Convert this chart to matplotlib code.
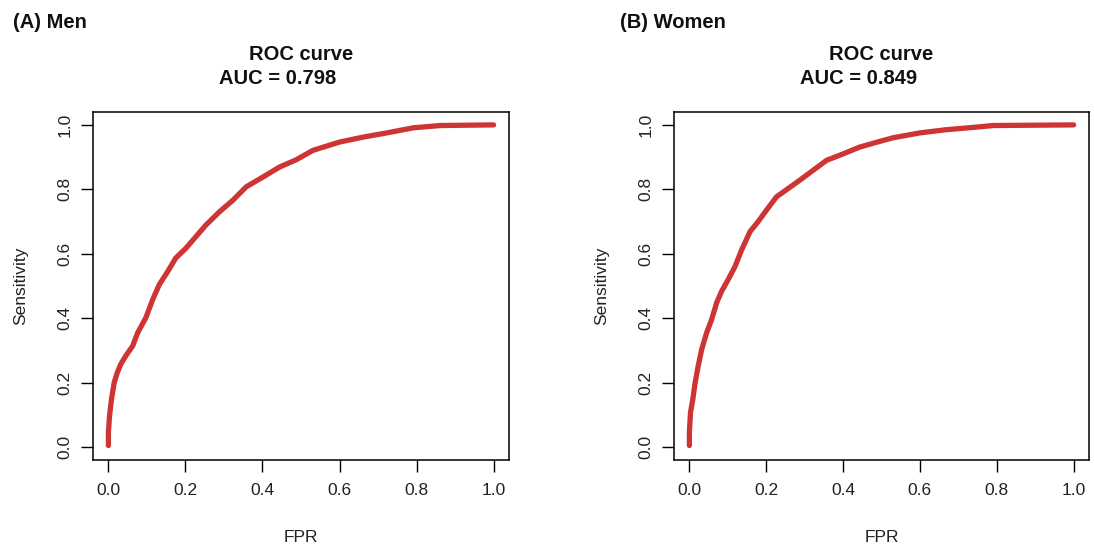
import matplotlib
matplotlib.use("Agg")
import matplotlib.pyplot as plt

plt.rcParams["font.family"] = ["Liberation Sans", "DejaVu Sans"]

# ROC points: (FPR, sensitivity)
men_fpr = [0.0, 0.0, 0.003, 0.008, 0.015, 0.023, 0.032, 0.045, 0.063, 0.076,
           0.097, 0.115, 0.132, 0.154, 0.175, 0.201, 0.227, 0.253, 0.288,
           0.323, 0.358, 0.401, 0.444, 0.488, 0.531, 0.601, 0.661, 0.722,
           0.792, 0.861, 1.0]
men_tpr = [0.005, 0.046, 0.098, 0.149, 0.200, 0.231, 0.257, 0.283, 0.314, 0.355,
           0.401, 0.458, 0.504, 0.545, 0.587, 0.617, 0.653, 0.689, 0.730,
           0.766, 0.808, 0.838, 0.869, 0.892, 0.921, 0.947, 0.962, 0.975,
           0.991, 0.998, 1.0]

women_fpr = [0.0, 0.0, 0.003, 0.009, 0.015, 0.023, 0.032, 0.045, 0.058, 0.071,
             0.084, 0.101, 0.119, 0.136, 0.158, 0.179, 0.201, 0.227, 0.253,
             0.287, 0.322, 0.357, 0.400, 0.443, 0.487, 0.530, 0.599, 0.668,
             0.746, 0.790, 1.0]
women_tpr = [0.005, 0.046, 0.108, 0.149, 0.200, 0.252, 0.303, 0.355, 0.396, 0.448,
             0.484, 0.520, 0.561, 0.612, 0.669, 0.700, 0.736, 0.777, 0.799,
             0.828, 0.859, 0.890, 0.910, 0.931, 0.946, 0.960, 0.975, 0.985,
             0.993, 0.998, 1.0]

panels = ["(A) Men", "(B) Women"]
aucs = [0.798, 0.849]
ticks = [0.0, 0.2, 0.4, 0.6, 0.8, 1.0]

W, H = 1094, 550
fig = plt.figure(figsize=(W / 100, H / 100), dpi=100)

# axes boxes in pixels: left, right
boxes = [(93, 509), (674, 1089)]
top, bottom = 112, 460
curves = [(men_fpr, men_tpr), (women_fpr, women_tpr)]

for i, ((l, r), (fx, ty)) in enumerate(zip(boxes, curves)):
    ax = fig.add_axes([l / W, (H - bottom) / H, (r - l) / W, (bottom - top) / H])
    ax.plot(fx, ty, color="#cf3434", lw=3.8, solid_capstyle="round")
    ax.set_xlim(-0.04, 1.04)
    ax.set_ylim(-0.04, 1.04)
    ax.set_xticks(ticks)
    ax.set_yticks(ticks)
    ax.set_xticklabels([f"{t:.1f}" for t in ticks])
    ax.set_yticklabels([f"{t:.1f}" for t in ticks], rotation=90, va="center")
    ax.tick_params(direction="out", length=8.5, width=1.0, labelsize=12.5,
                   labelcolor="#222222", pad=8)
    ax.tick_params(axis="y", pad=6)
    for s in ax.spines.values():
        s.set_linewidth(1.1)
    ax.set_xlabel("FPR", fontsize=12.5, color="#222222")
    ax.xaxis.set_label_coords(0.5, -0.20)
    ax.set_ylabel("Sensitivity", fontsize=12.5, color="#222222")
    ax.yaxis.set_label_coords(-0.155, 0.5)

    cx = (l + r) / 2
    fig.text(cx / W, 1 - 54 / H, "ROC curve", ha="center", va="center",
             fontsize=14.5, fontweight="bold", color="#111111")
    fig.text((cx - 23) / W, 1 - 79 / H, f"AUC = {aucs[i]:.3f}", ha="center",
             va="center", fontsize=14.5, fontweight="bold", color="#111111")
    fig.text((13 if i == 0 else 620) / W, 1 - 23 / H, panels[i], ha="left",
             va="center", fontsize=14.5, fontweight="bold", color="#111111")

fig.savefig("out.png", dpi=100)
